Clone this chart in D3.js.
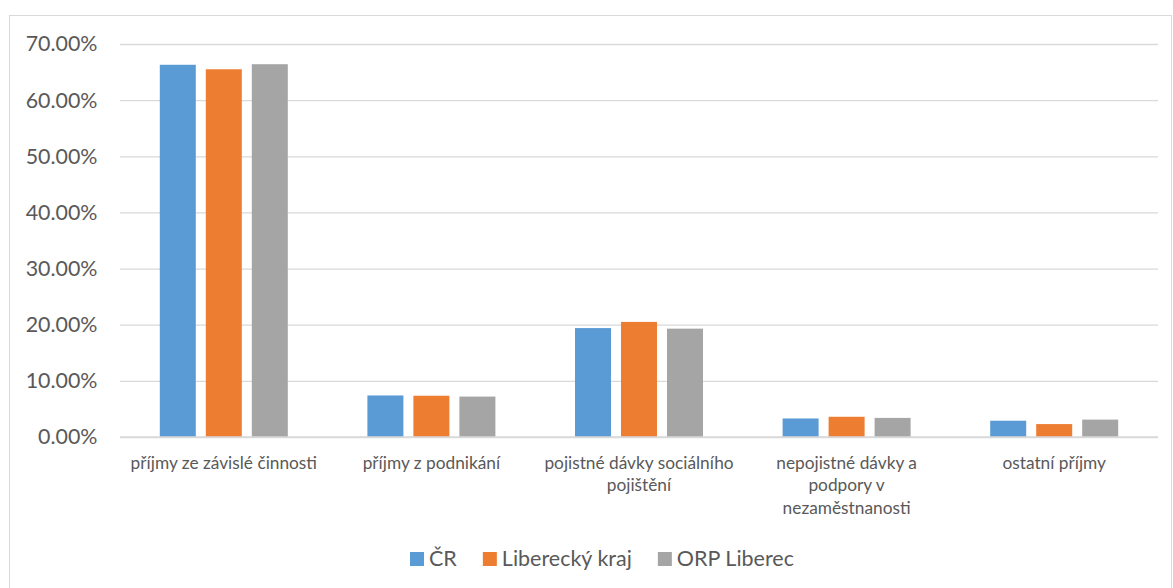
<!DOCTYPE html>
<html>
<head>
<meta charset="utf-8">
<script src="https://cdn.jsdelivr.net/npm/d3@7"></script>
<style>
html, body { margin: 0; padding: 0; background: #fff; }
svg { display: block; }
text { font-family: Lato, "Open Sans", sans-serif; fill: #595959; }
</style>
</head>
<body>
<svg id="chart" width="1173" height="588"></svg>
<script>
const categories = [
  "příjmy ze závislé činnosti",
  "příjmy z podnikání",
  "pojistné dávky sociálního pojištění",
  "nepojistné dávky a podpory v nezaměstnanosti",
  "ostatní příjmy"
];
const seriesNames = ["ČR", "Liberecký kraj", "ORP Liberec"];
const seriesColors = ["#5B9BD5", "#ED7D31", "#A5A5A5"];
const valuesCR = [0.663, 0.074, 0.194, 0.033, 0.029];
const valuesLK = [0.655, 0.0735, 0.205, 0.036, 0.023];
const valuesORP = [0.664, 0.072, 0.193, 0.034, 0.031];
const yTicks = [0, 0.1, 0.2, 0.3, 0.4, 0.5, 0.6, 0.7];

const seriesValues = [valuesCR, valuesLK, valuesORP];

const svg = d3.select("#chart");

// outer chart border
svg.append("rect")
  .attr("x", 9.5).attr("y", 15.5)
  .attr("width", 1162).attr("height", 600)
  .attr("fill", "none").attr("stroke", "#D9D9D9").attr("stroke-width", 1);

const plot = { left: 120, right: 1158, top: 44, bottom: 437 };

const x0 = d3.scaleBand().domain(categories).range([plot.left, plot.right]).paddingInner(0).paddingOuter(0);
const y = d3.scaleLinear().domain([0, 0.7]).range([plot.bottom, plot.top]);

const barW = 36, barGap = 10;
const x1 = d3.scaleBand().domain(seriesNames)
  .range([-(barW * 1.5 + barGap), barW * 1.5 + barGap])
  .paddingInner(barGap / (barW + barGap)).paddingOuter(0);

// gridlines
const yAxis = d3.axisLeft(y).tickValues(yTicks)
  .tickFormat(d => (d * 100).toFixed(2) + "%")
  .tickSize(-(plot.right - plot.left)).tickPadding(22.5);

const gy = svg.append("g").attr("transform", `translate(${plot.left},0)`).call(yAxis);
gy.select(".domain").remove();
gy.selectAll(".tick line").attr("stroke", "#D9D9D9").attr("stroke-width", 1.3);
gy.selectAll(".tick text")
  .attr("fill", "#595959").attr("font-size", 21.4)
  .style("font-family", "Lato, 'Open Sans', sans-serif");

// bars
const groups = svg.append("g").selectAll("g")
  .data(categories)
  .join("g")
  .attr("transform", d => `translate(${x0(d) + x0.bandwidth() / 2},0)`);

groups.selectAll("rect")
  .data((c, i) => seriesNames.map((s, k) => ({ s, v: seriesValues[k][i], k })))
  .join("rect")
  .attr("x", d => x1(d.s))
  .attr("width", x1.bandwidth())
  .attr("y", d => y(d.v))
  .attr("height", d => y(0) - y(d.v))
  .attr("fill", d => seriesColors[d.k]);

// baseline
svg.append("line")
  .attr("x1", plot.left).attr("x2", plot.right)
  .attr("y1", y(0)).attr("y2", y(0))
  .attr("stroke", "#D9D9D9").attr("stroke-width", 1.3);

// category labels with wrapping
const xAxis = d3.axisBottom(x0).tickSize(0).tickPadding(0);
const gx = svg.append("g").attr("transform", `translate(0,${plot.bottom})`).call(xAxis);
gx.select(".domain").remove();
gx.selectAll(".tick text").each(function (d) {
  const t = d3.select(this);
  t.text(null).attr("y", 0).attr("dy", null)
    .attr("font-size", 17.3).attr("fill", "#595959")
    .style("font-family", "Lato, 'Open Sans', sans-serif");
  const words = d.split(" ");
  const maxW = 193;
  let lines = [], cur = [];
  const probe = t.append("tspan");
  words.forEach(w => {
    const test = cur.concat([w]).join(" ");
    probe.text(test);
    if (probe.node().getComputedTextLength() > maxW && cur.length) {
      lines.push(cur.join(" "));
      cur = [w];
    } else cur.push(w);
  });
  lines.push(cur.join(" "));
  probe.remove();
  lines.forEach((ln, i) => {
    t.append("tspan").attr("x", 0).attr("y", 31.5 + i * 22.8).text(ln);
  });
});

// legend
const legend = svg.append("g");
let lx = 410;
seriesNames.forEach((s, k) => {
  legend.append("rect").attr("x", lx).attr("y", 552).attr("width", 14).attr("height", 14)
    .attr("fill", seriesColors[k]);
  const tt = legend.append("text").attr("x", lx + 19).attr("y", 565.5)
    .attr("font-size", 21.5).text(s);
  lx += 19 + tt.node().getComputedTextLength() + 26;
});
</script>
</body>
</html>
